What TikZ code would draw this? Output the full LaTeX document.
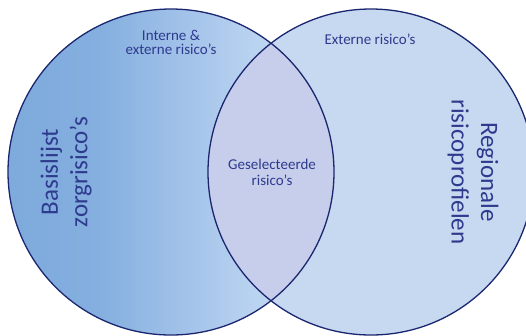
\documentclass[tikz,border=0pt]{standalone}
\usepackage{fontspec}
\setmainfont{Carlito}
\definecolor{lc1}{HTML}{7EAADC}
\definecolor{lc2}{HTML}{84AFDF}
\definecolor{lc3}{HTML}{A2C2E9}
\definecolor{lc4}{HTML}{B6D0EF}
\definecolor{lc5}{HTML}{BFD7F1}
\definecolor{rfill}{HTML}{C6D9F0}
\definecolor{lensfill}{HTML}{C6CEEB}
\definecolor{edge}{HTML}{1B2670}
\definecolor{txt}{HTML}{2E3A8E}
\pgfdeclarehorizontalshading{leftshade}{100bp}{color(0bp)=(lc1); color(25bp)=(lc1); color(39bp)=(lc2); color(52bp)=(lc3); color(61bp)=(lc4); color(66bp)=(lc5); color(100bp)=(lc5)}
\tikzset{
  small/.style={text=txt, align=center, inner sep=0pt, font=\fontsize{15}{14}\selectfont},
  big/.style={text=txt, align=center, inner sep=0pt, font=\fontsize{25}{29.5}\selectfont},
  rim/.style={draw=edge, line width=1.3pt}
}
\begin{document}
\begin{tikzpicture}[x=1pt,y=-1pt]
\useasboundingbox (0,0) rectangle (526,335);
\clip (0,0) rectangle (526,335);
\coordinate (cl) at (171,172);
\coordinate (cr) at (371,172);
\shade[shading=leftshade] (cl) circle[radius=163];
\fill[rfill] (cr) circle[radius=163];
\begin{scope}
  \clip (cl) circle[radius=163];
  \fill[lensfill] (cr) circle[radius=163];
\end{scope}
\draw[rim] (cl) circle[radius=163];
\draw[rim] (cr) circle[radius=163];
\node[small] (ie) at (171,42) {Interne \&\\externe risico’s};
\node[small] (er) at (370,39) {Externe risico’s};
\node[small, font=\fontsize{15}{16.5}\selectfont] (gs) at (272,172.5) {Geselecteerde\\risico’s};
\node[big, rotate=90] (bz) at (66,172) {Basislijst\\zorgrisico’s};
\node[big, rotate=-90] (rr) at (473,172) {Regionale\\risicoprofielen};
\end{tikzpicture}
\end{document}
